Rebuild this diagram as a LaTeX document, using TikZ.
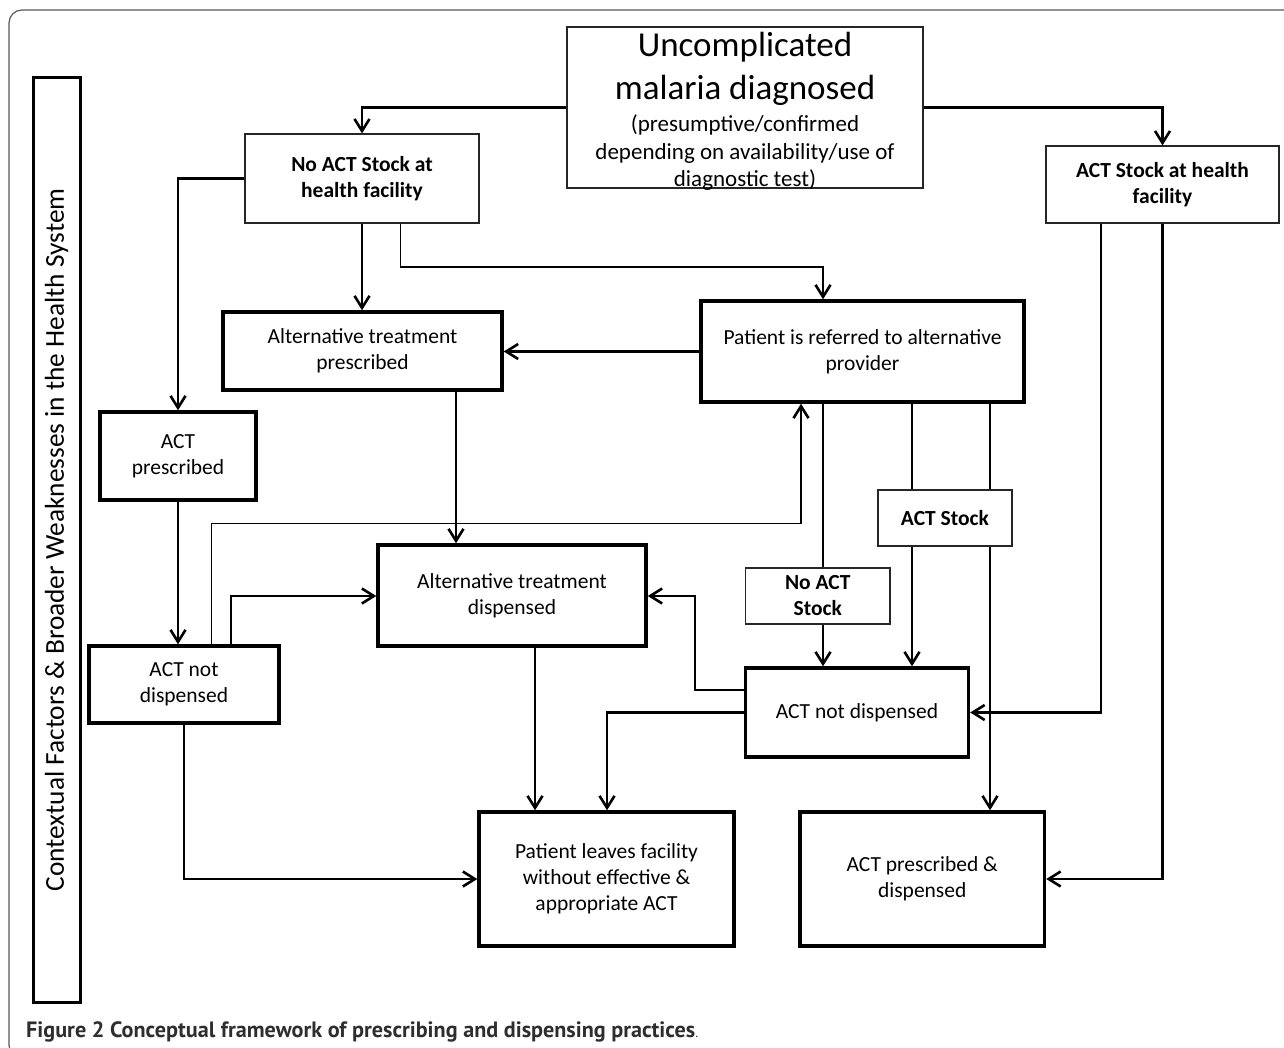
\documentclass[tikz,border=0pt]{standalone}
\usepackage{fontspec}
\setmainfont{Carlito}
\newfontfamily\capfont{PT Sans}
\usetikzlibrary{arrows.meta,calc}

\newcommand\bx[7]{\node[#6, minimum width={(#4)-(#2)}, minimum height={(#5)-(#3)}] (#1) at ({((#2)+(#4))/2},{((#3)+(#5))/2}) {#7};}

\begin{document}
\begin{tikzpicture}[x=1pt,y=-1pt,
  basebox/.style={draw, align=center, inner sep=0pt, font=\fontsize{21.5}{26}\selectfont},
  thinbox/.style={basebox, line width=1.2pt, draw=black!85},
  boldbox/.style={thinbox, font=\fontsize{21.5}{26}\selectfont\bfseries},
  thickbox/.style={basebox, line width=3.4pt},
  conn/.style={line width=2.6pt},
  arr/.style={conn, -{Straight Barb[length=12pt,width=15pt,line width=2.6pt]}},
]
\useasboundingbox (0,0) rectangle (1284,1048);
\fill[white] (0,0) rectangle (1284,1048);

% outer frame
\draw[line width=1.2pt, draw=black!65, rounded corners=13pt] (9,10) rectangle (1310,1058);

% vertical context box
\node[draw, line width=3pt, rotate=90, minimum width=924, minimum height=47, inner sep=0pt] (ctx) at (56.5,540)
  {\resizebox{703pt}{!}{Contextual Factors \& Broader Weaknesses in the Health System}};

% boxes
\node[thinbox, minimum width=356, minimum height=161] (top) at (745,107.5)
  {\raisebox{-4pt}[\height][\depth]{\parbox{350pt}{\centering
   \fontsize{35}{43}\selectfont Uncomplicated\\malaria diagnosed\par\vskip4.5pt
   \fontsize{23}{27.5}\selectfont (presumptive/confirmed\\depending on availability/use of\\diagnostic test)}}};
\bx{noStock}{245}{134}{479}{223}{boldbox}{No ACT Stock at\\health facility}
\bx{stock}{1046}{146}{1279}{223}{boldbox}{ACT Stock at health\\facility}
\bx{altPresc}{223}{312}{502}{390}{thickbox}{Alternative treatment\\prescribed}
\bx{referred}{701}{301}{1024}{402}{thickbox}{Patient is referred to alternative\\provider}
\bx{actPresc}{100}{412}{256}{500}{thickbox}{ACT\\prescribed}
\bx{altDisp}{378}{545}{646}{646}{thickbox}{Alternative treatment\\dispensed}
\bx{actNDL}{89}{646}{279}{723}{thickbox}{ACT not\\dispensed}
\bx{actLbl}{878}{490}{1012}{546}{boldbox}{ACT Stock}
\bx{noActLbl}{745.5}{568}{890}{624}{boldbox}{No ACT\\Stock}
\bx{actNDR}{745.5}{668}{968.5}{757}{thickbox}{ACT not dispensed}
\bx{leaves}{479}{812}{734}{946}{thickbox}{Patient leaves facility\\without effective \&\\appropriate ACT}
\bx{prescDisp}{800}{812}{1044.5}{946}{thickbox}{ACT prescribed \&\\dispensed}

% guide coordinates
\coordinate (xe) at (400.5,0);
\coordinate (xo) at (823,0);
\coordinate (xp) at (912,0);
\coordinate (xq) at (990,0);
\coordinate (xr) at (1101,0);
\coordinate (xg) at (456,0);
\coordinate (xi) at (801,0);
\coordinate (xi2) at (211.5,0);
\coordinate (xj) at (231,0);
\coordinate (xl) at (535,0);
\coordinate (xm) at (607,0);
\coordinate (xn) at (695,0);
\coordinate (ye) at (0,267);
\coordinate (yi) at (0,523.5);
\coordinate (yj) at (0,596);
\coordinate (yn) at (0,690);

% connectors
\draw[arr] (top.west) -| (noStock.north);
\draw[arr] (top.east) -| (stock.north);
\draw[arr] (noStock.west) -| (actPresc.north);
\draw[arr] (noStock.south) -- (noStock.south |- altPresc.north);
\draw[arr, line width=1.6pt] (noStock.south -| xe) |- (ye -| xo) -- (referred.north -| xo);
\draw[arr] (referred.west) -- (referred.west -| altPresc.east);
\draw[arr] (altPresc.south -| xg) -- (altDisp.north -| xg);
\draw[arr] (actPresc.south) -- (actPresc.south |- actNDL.north);
\draw[arr, line width=1.6pt] (actNDL.north -| xi2) |- (yi -| xi) -- (referred.south -| xi);
\draw[arr] (actNDL.north -| xj) |- (yj -| altDisp.west);
\draw[arr] (actNDL.south) |- (leaves.west);
\draw[arr] (altDisp.south -| xl) -- (leaves.north -| xl);
\draw[arr] (actNDR.west) -| (leaves.north -| xm);
\draw[arr] (actNDR.west |- yn) -| (yj -| xn) -- (yj -| altDisp.east);
\draw[conn] (referred.south -| xo) -- (noActLbl.north -| xo);
\draw[arr] (noActLbl.south -| xo) -- (actNDR.north -| xo);
\draw[conn] (referred.south -| xp) -- (actLbl.north -| xp);
\draw[arr] (actLbl.south -| xp) -- (actNDR.north -| xp);
\draw[conn] (referred.south -| xq) -- (actLbl.north -| xq);
\draw[arr] (actLbl.south -| xq) -- (prescDisp.north -| xq);
\draw[arr] (stock.south -| xr) |- (actNDR.east);
\draw[arr] (stock.south) |- (prescDisp.east);

% caption
\node[anchor=base west, inner sep=0pt, text=black!82] (cap) at (26,1037)
  {\resizebox{669pt}{!}{\capfont\bfseries Figure 2 Conceptual framework of prescribing and dispensing practices}{\capfont\fontsize{13}{13}\selectfont.}};
\end{tikzpicture}
\end{document}
